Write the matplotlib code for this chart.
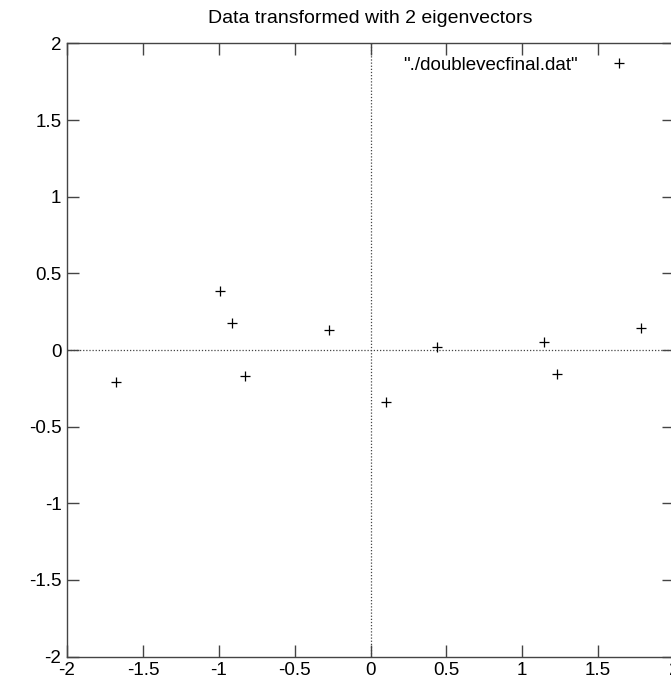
import matplotlib
matplotlib.use("Agg")
import matplotlib.pyplot as plt
from matplotlib import font_manager

# points
x_vals = [-1.676, -0.993, -0.914, -0.826, -0.273, 0.10, 0.441, 1.146, 1.227, 1.783]
y_vals = [-0.207, 0.383, 0.176, -0.172, 0.132, -0.34, 0.020, 0.052, -0.159, 0.141]
ticks = [-2, -1.5, -1, -0.5, 0, 0.5, 1, 1.5, 2]
tick_labels = ["-2", "-1.5", "-1", "-0.5", "0", "0.5", "1", "1.5", "2"]

names = {f.name for f in font_manager.fontManager.ttflist}
fam = "Liberation Sans Narrow" if "Liberation Sans Narrow" in names else "Liberation Sans"
plt.rcParams['font.family'] = [fam, 'DejaVu Sans']

fig = plt.figure(figsize=(6.71, 6.81), dpi=100)
ax = fig.add_axes([67/671, 0.0358, 607/671, 0.9004])

ax.axhline(0, color='#444444', lw=0.9, ls=(0, (1, 1.5)), zorder=1)
ax.axvline(0, color='#444444', lw=0.9, ls=(0, (1, 1.5)), zorder=1)

ax.plot(x_vals, y_vals, ls='none', marker='+', ms=7.5, mew=0.9, color='black',
        label='"./doublevecfinal.dat"', zorder=3)

ax.set_xlim(-2, 2)
ax.set_ylim(-2, 2)
ax.set_xticks(ticks)
ax.set_xticklabels(tick_labels)
ax.set_yticks(ticks)
ax.set_yticklabels(tick_labels)
ax.tick_params(direction='in', length=8.5, width=1, color='#444444',
               top=True, right=True, labelsize=13.5, pad=4)
for s in ax.spines.values():
    s.set_color('#444444')
    s.set_linewidth(1)

ax.set_title("Data transformed with 2 eigenvectors", fontsize=14, pad=15)

ax.legend(loc='upper right', frameon=False, markerfirst=False, fontsize=13.5,
          handlelength=3.2, handletextpad=0.6, borderaxespad=0.3,
          bbox_to_anchor=(0.981, 1.0))

fig.savefig("out.png", dpi=100)
